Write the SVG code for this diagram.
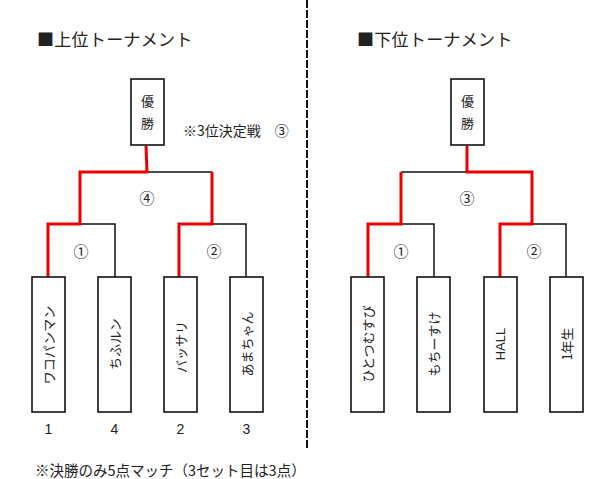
<svg xmlns="http://www.w3.org/2000/svg" width="600" height="479" viewBox="0 0 600 479">
<style>
  text { font-family: "Noto Sans CJK JP", "Liberation Sans", sans-serif; fill: #222; }
  .title { font-size: 17px; letter-spacing: 0.3px; }
  .lbl { font-size: 13px; text-anchor: middle; dominant-baseline: central; }
  .circ { font-size: 15px; text-anchor: middle; dominant-baseline: central; }
  .num { font-size: 14px; text-anchor: middle; font-family: "Liberation Sans", sans-serif; }
  .note { font-size: 14.5px; }
  .box { fill: #fff; stroke: #111; stroke-width: 1.6; }
  .blk { fill: none; stroke: #111; stroke-width: 1.5; }
  .red { fill: none; stroke: #e00; stroke-width: 3; stroke-linejoin: miter; }
  .latin { font-family: "Liberation Sans", sans-serif; }
</style>
<rect width="600" height="479" fill="#fff"/>

<line x1="307" y1="0" x2="307" y2="450" stroke="#111" stroke-width="2" stroke-dasharray="8,2"/>

<text class="title" x="37" y="46">■上位トーナメント</text>
<text class="title" x="357" y="46">■下位トーナメント</text>

<g id="connectors">
  <polyline class="blk" points="147,172 212,172"/>
  <polyline class="blk" points="80,224 115,224 115,277"/>
  <polyline class="blk" points="212,224 246,224 246,277"/>
  <polyline class="red" points="146,146 147,172 80,172 80,224 48,224 48,277"/>
  <polyline class="red" points="212,172 212,224 179,224 179,277"/>
  <polyline class="blk" points="467,172 401,172"/>
  <polyline class="blk" points="401,224 434,224 434,277"/>
  <polyline class="blk" points="532,224 566,224 566,277"/>
  <polyline class="red" points="467,146 467,172 532,172 532,224 500,224 500,277"/>
  <polyline class="red" points="401,172 401,224 368,224 368,277"/>
</g>

<g id="upper-winner">
  <rect class="box" x="131" y="79" width="33" height="66"/>
  <text class="lbl" x="147.5" y="100">優</text>
  <text class="lbl" x="147.5" y="122">勝</text>
</g>
<g id="lower-winner">
  <rect class="box" x="451" y="79" width="33" height="66"/>
  <text class="lbl" x="467.5" y="100">優</text>
  <text class="lbl" x="467.5" y="122">勝</text>
</g>

<text class="lbl" x="183" y="130" style="text-anchor:start;font-size:14px">※3位決定戦　③</text>

<g id="match-labels">
  <text class="circ" x="147" y="197">④</text>
  <text class="circ" x="81" y="250">①</text>
  <text class="circ" x="214" y="250">②</text>
  <text class="circ" x="467" y="197">③</text>
  <text class="circ" x="401" y="250">①</text>
  <text class="circ" x="534" y="250">②</text>
</g>

<g id="team-wakopanman">
  <rect class="box" x="32" y="277" width="33" height="135"/>
  <text class="lbl" transform="translate(48.5,345) rotate(-90)">ワコパンマン</text>
</g>
<g id="team-chifurun">
  <rect class="box" x="98" y="277" width="33" height="135"/>
  <text class="lbl" transform="translate(114.5,344) rotate(-90)">ちふルン</text>
</g>
<g id="team-bassari">
  <rect class="box" x="164" y="277" width="33" height="135"/>
  <text class="lbl" transform="translate(180.5,347) rotate(-90)">バッサリ</text>
</g>
<g id="team-amachan">
  <rect class="box" x="230" y="277" width="33" height="135"/>
  <text class="lbl" transform="translate(246.5,344) rotate(-90)">あまちゃん</text>
</g>

<g id="team-hitotsumusubi">
  <rect class="box" x="351" y="277" width="33" height="135"/>
  <text class="lbl" transform="translate(367.5,344) rotate(-90)">ひとつむすび</text>
</g>
<g id="team-mochisuke">
  <rect class="box" x="417" y="277" width="33" height="135"/>
  <text class="lbl" transform="translate(433.5,344) rotate(-90)">もちーすけ</text>
</g>
<g id="team-hall">
  <rect class="box" x="484" y="277" width="33" height="135"/>
  <text class="lbl latin" transform="translate(500.5,344) rotate(-90)">HALL</text>
</g>
<g id="team-1nensei">
  <rect class="box" x="550" y="277" width="33" height="135"/>
  <text class="lbl" transform="translate(566.5,344) rotate(-90)">1年生</text>
</g>

<g id="seeds">
  <text class="num" x="48.5" y="434">1</text>
  <text class="num" x="114.5" y="434">4</text>
  <text class="num" x="180.5" y="434">2</text>
  <text class="num" x="246.5" y="434">3</text>
</g>

<text class="note" x="35" y="476">※決勝のみ5点マッチ（3セット目は3点）</text>
</svg>
